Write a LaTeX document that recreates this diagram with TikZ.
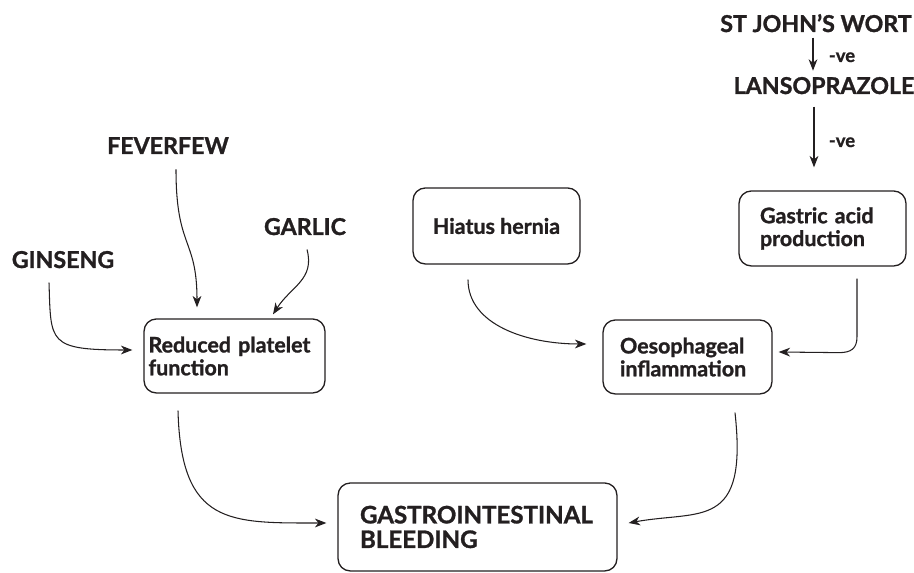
\documentclass[tikz,border=0pt]{standalone}
\usepackage{fontspec}
\setmainfont{Lato}[BoldFeatures={FakeBold=1.2}]
\usetikzlibrary{arrows.meta, calc}
\definecolor{InkGray}{RGB}{35,31,32}

\begin{document}
\begin{tikzpicture}[x=0.02cm, y=-0.02cm,
	lbl/.style={inner sep=0pt, anchor=base, text=InkGray,
		font=\bfseries\fontsize{13.2}{15}\selectfont},
	vlbl/.style={inner sep=0pt, anchor=base, text=InkGray,
		font=\bfseries\fontsize{10.5}{12}\selectfont},
	box/.style={rectangle, rounded corners=7pt, draw=InkGray, line width=0.75pt,
		text=InkGray, inner sep=0pt, align=left,
		font=\bfseries\fontsize{12.2}{13}\selectfont},
	arr/.style={-{Stealth[length=6.5pt,width=5pt,inset=2pt]}, draw=InkGray,
		line width=0.6pt}]
	\useasboundingbox (0,0) rectangle (914,573);
	% causas: remedios y farmacos
	\foreach \nm/\x/\y/\txt in {stjohn/816/32/ST JOHN'S WORT,
		lanso/824/94/LANSOPRAZOLE, feverfew/168/154/FEVERFEW,
		garlic/305/235/GARLIC, ginseng/63/268/GINSENG}
		{\node[lbl] (\nm) at (\x,\y) {\txt};}
	\node[vlbl] (ve1) at (842,62) {-ve};
	\node[vlbl] (ve2) at (842,147) {-ve};
	% cajas
	\node[box, minimum width=3.62cm, minimum height=1.48cm, text width=3.44cm]
		(platelet) at (234.5,356) {Reduced platelet\\function};
	\node[box, align=center, minimum width=3.34cm, minimum height=1.52cm]
		(hiatus) at (496.5,226) {Hiatus hernia};
	\node[box, minimum width=3.34cm, minimum height=1.5cm, text width=2.5cm]
		(gastric) at (822.5,228.5) {Gastric acid\\production};
	\node[box, minimum width=3.38cm, minimum height=1.48cm, text width=2.7cm]
		(oeso) at (687.5,357) {Oesophageal\\inflammation};
	\node[box, minimum width=5.58cm, minimum height=1.76cm, text width=4.7cm,
		font=\bfseries\fontsize{13.7}{14}\selectfont]
		(gib) at (477.5,527) {GASTROINTESTINAL\\BLEEDING};
	% flechas
	\draw[arr] ($(stjohn.south)+(-3,5)$) -- ($(lanso.north)+(-11,-6)$);
	\draw[arr] ($(lanso.south)+(-10,12)$) -- ($(gastric.north)+(-8.5,-23)$);
	\draw[arr] ($(feverfew.south)+(8,15)$) .. controls +(0,80) and +(0,-70)
		.. ($(platelet.north)+(-37.5,-11)$);
	\draw[arr] ($(garlic.south)+(2,14)$) .. controls +(8,30) and +(18,-28)
		.. ($(platelet.north)+(38.5,-4)$);
	\draw[arr] ($(ginseng.south)+(-14,14)$) .. controls +(2,60) and +(-85,0)
		.. ($(platelet.west)+(-11,-6)$);
	\draw[arr] ($(hiatus.south)+(-28.5,15)$) .. controls +(0,45) and +(-60,0)
		.. ($(oeso.west)+(-16,-13)$);
	\draw[arr] ($(gastric.south)+(34.5,12)$) -- ++(0,58) .. controls +(0,12)
		and +(12,0) .. ++(-18,16) -- ($(oeso.east)+(6,-5)$);
	\draw[arr] ($(platelet.south)+(-56.5,17)$) .. controls +(3,115) and +(-97,0)
		.. ($(gib.west)+(-11,-4)$);
	\draw[arr] ($(oeso.south)+(47.5,18)$) .. controls +(13,118) and +(72,-13)
		.. ($(gib.east)+(11,-4)$);
\end{tikzpicture}
\end{document}
